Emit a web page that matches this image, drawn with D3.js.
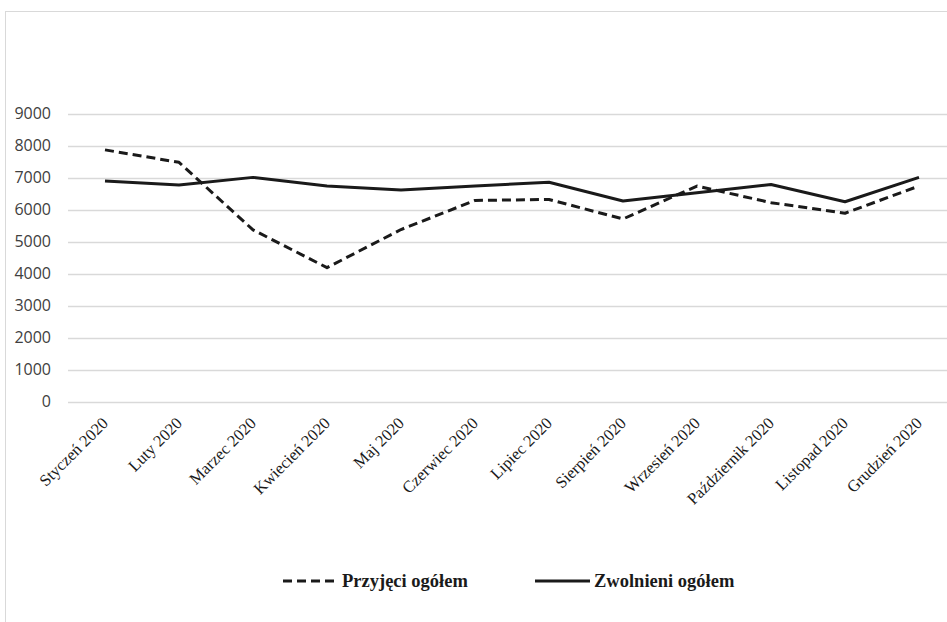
<!DOCTYPE html>
<html><head><meta charset="utf-8">
<script src="https://cdn.jsdelivr.net/npm/d3@7"></script>
<style>html,body{margin:0;padding:0;background:#fff;}svg{display:block;}</style>
</head><body>
<svg id="chart" width="947" height="622"></svg>
<script>
const months = ["Styczeń 2020","Luty 2020","Marzec 2020","Kwiecień 2020","Maj 2020","Czerwiec 2020","Lipiec 2020","Sierpień 2020","Wrzesień 2020","Październik 2020","Listopad 2020","Grudzień 2020"];
const przyjeci = [7870,7480,5370,4190,5380,6290,6320,5710,6740,6220,5890,6740];
const zwolnieni = [6900,6770,7010,6740,6615,6740,6860,6270,6530,6790,6250,7010];
const yTicks = [0,1000,2000,3000,4000,5000,6000,7000,8000,9000];
const seriesNames = ["Przyjęci ogółem","Zwolnieni ogółem"];

const svg = d3.select("#chart");
// chart area border
svg.append("rect").attr("x",5.5).attr("y",11.5).attr("width",960).attr("height",640)
  .attr("fill","none").attr("stroke","#d9d9d9").attr("stroke-width",1);

const x = d3.scaleBand().domain(months).range([68,956]);
const y = d3.scaleLinear().domain([0,9000]).range([401.7,113.7]);

// gridlines
svg.append("g").selectAll("line").data(yTicks).join("line")
  .attr("x1",68).attr("x2",947)
  .attr("y1",d=>Math.round(y(d))+0.5).attr("y2",d=>Math.round(y(d))+0.5)
  .attr("stroke","#d9d9d9").attr("stroke-width",1.3);

// y axis labels
const yAxis = d3.axisLeft(y).tickValues(yTicks).tickSize(0).tickPadding(0).tickFormat(d3.format("d"));
const gy = svg.append("g").attr("transform","translate(51,0)").call(yAxis);
gy.select(".domain").remove();
gy.selectAll("text").attr("font-family","'Open Sans', sans-serif").attr("font-size",16).attr("fill","#404040");

// x axis labels
const xAxis = d3.axisBottom(x).tickSize(0).tickPadding(0);
const gx = svg.append("g").attr("transform","translate(0,410)").call(xAxis);
gx.select(".domain").remove();
gx.selectAll("text")
  .attr("font-family","'Liberation Serif','Times New Roman',serif").attr("font-size",16.5).attr("fill","#1a1a1a")
  .attr("text-anchor","end").attr("dy","0.7em").attr("dx","0")
  .attr("transform","translate(-4,6) rotate(-45)");

const line = d3.line().x((d,i)=>x(months[i])+x.bandwidth()/2).y(d=>y(d));

svg.append("path").datum(zwolnieni).attr("d",line)
  .attr("fill","none").attr("stroke","#1a1a1a").attr("stroke-width",3).attr("stroke-linejoin","round");
svg.append("path").datum(przyjeci).attr("d",line)
  .attr("fill","none").attr("stroke","#1a1a1a").attr("stroke-width",3).attr("stroke-dasharray","9,5").attr("stroke-linejoin","round");

// legend
const legend = [
  {name: seriesNames[0], x0: 283, dash: "9,5"},
  {name: seriesNames[1], x0: 535, dash: null}
];
const lg = svg.append("g");
legend.forEach(l => {
  lg.append("line").attr("x1",l.x0).attr("x2",l.x0+55).attr("y1",581).attr("y2",581)
    .attr("stroke","#1a1a1a").attr("stroke-width",3).attr("stroke-dasharray",l.dash);
  lg.append("text").attr("x",l.x0+59).attr("y",587).text(l.name)
    .attr("font-family","'Liberation Serif','Times New Roman',serif").attr("font-weight","bold")
    .attr("font-size",18.5).attr("fill","#1a1a1a");
});
</script>
</body></html>
